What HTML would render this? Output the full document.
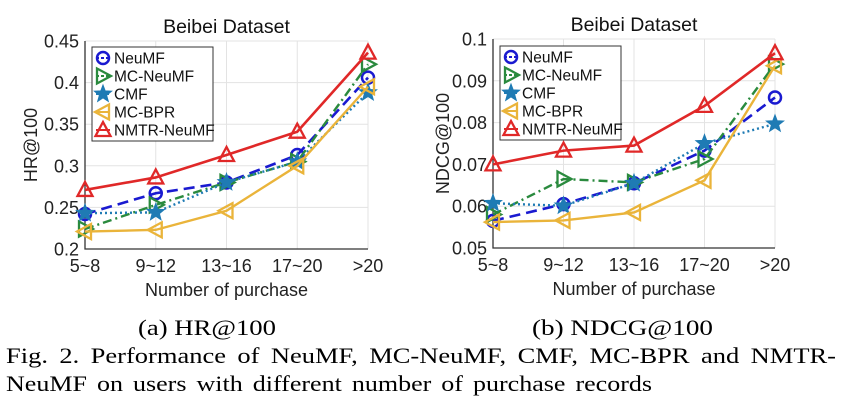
<!DOCTYPE html>
<html><head><meta charset="utf-8"><style>
html,body{margin:0;padding:0;background:#fff;}
svg{display:block;}
</style></head><body>
<svg id="fig" width="847" height="403" viewBox="0 0 847 403" xmlns="http://www.w3.org/2000/svg">
<g id="c1"></g>
<g id="c2"></g>
<text x="138" y="335" font-family="Liberation Serif, serif" font-size="22" textLength="138" lengthAdjust="spacingAndGlyphs">(a) HR@100</text>
<text x="532" y="335" font-family="Liberation Serif, serif" font-size="22" textLength="181" lengthAdjust="spacingAndGlyphs">(b) NDCG@100</text>
<text x="6" y="363" font-family="Liberation Serif, serif" font-size="22" word-spacing="4" textLength="830" lengthAdjust="spacingAndGlyphs">Fig. 2.  Performance of NeuMF, MC-NeuMF, CMF, MC-BPR and NMTR-</text>
<text x="6" y="391" font-family="Liberation Serif, serif" font-size="22" word-spacing="3" textLength="646" lengthAdjust="spacingAndGlyphs">NeuMF on users with different number of purchase records</text>
</svg>
<script>
const categories = ["5~8","9~12","13~16","17~20",">20"];
const seriesNames = ["NeuMF","MC-NeuMF","CMF","MC-BPR","NMTR-NeuMF"];
const hrNeuMF = [0.242,0.267,0.280,0.313,0.406];
const hrMCNeuMF = [0.224,0.253,0.280,0.305,0.422];
const hrCMF = [0.243,0.244,0.280,0.305,0.388];
const hrMCBPR = [0.221,0.223,0.246,0.300,0.395];
const hrNMTR = [0.271,0.286,0.313,0.341,0.436];
const hrTicks = ["0.2","0.25","0.3","0.35","0.4","0.45"];
const ndNeuMF = [0.0565,0.0605,0.0655,0.0733,0.0860];
const ndMCNeuMF = [0.0580,0.0665,0.0657,0.0713,0.0940];
const ndCMF = [0.0607,0.0601,0.0655,0.0750,0.0797];
const ndMCBPR = [0.0562,0.0566,0.0585,0.0662,0.0936];
const ndNMTR = [0.0700,0.0733,0.0745,0.0840,0.0966];
const ndTicks = ["0.05","0.06","0.07","0.08","0.09","0.1"];

const NS="http://www.w3.org/2000/svg";
const styles=[
 {c:"#1a1ad0",d:"11,6",m:"circle",w:2.6},
 {c:"#2a8a3e",d:"9,4,2,4",m:"tri-right",w:2.4},
 {c:"#1f7bb4",d:"2,3",m:"star",w:2.4},
 {c:"#eab43a",d:"",m:"tri-left",w:2.4},
 {c:"#e02828",d:"",m:"tri-up",w:2.6}
];
function el(tag,attrs,parent){const e=document.createElementNS(NS,tag);for(const k in attrs)e.setAttribute(k,attrs[k]);parent.appendChild(e);return e;}
function marker(g,type,x,y,c){
 let e;
 if(type==="circle"){e=el("circle",{cx:x,cy:y,r:6,fill:"none",stroke:c,"stroke-width":2.5},g);}
 else if(type==="star"){let p=[];for(let i=0;i<10;i++){const r=i%2?3.8:9,a=-Math.PI/2+i*Math.PI/5;p.push((x+r*Math.cos(a)).toFixed(1)+","+(y+r*Math.sin(a)).toFixed(1));}e=el("polygon",{points:p.join(" "),fill:c,stroke:c,"stroke-width":1},g);}
 else{let pts;if(type==="tri-up")pts=[[x,y-8],[x-7.5,y+6],[x+7.5,y+6]];else if(type==="tri-right")pts=[[x+8,y],[x-6,y-7.5],[x-6,y+7.5]];else pts=[[x-8,y],[x+6,y-7.5],[x+6,y+7.5]];
  e=el("polygon",{points:pts.map(p=>p.join(",")).join(" "),fill:"none",stroke:c,"stroke-width":2.3},g);}
 return e;
}
function chart(gid,L,R,T,B,ymin,ymax,ticks,data,ylabel,legX,legY,ylx){
 const g=document.getElementById(gid);
 const xs=i=>L+(R-L)*i/(categories.length-1);
 const ys=v=>B-(B-T)*(v-ymin)/(ymax-ymin);
 const F="Liberation Sans, sans-serif";
 el("rect",{x:L,y:T,width:R-L,height:B-T,fill:"#fff"},g);
 ticks.forEach((t,i)=>{const v=ymin+(ymax-ymin)*i/(ticks.length-1);const y=ys(v);
  const gl=el("line",{x1:L,x2:R,y1:y,y2:y,stroke:"#e3e3e3","stroke-width":1},g);
  const tx=el("text",{x:L-6,y:y+6.5,"text-anchor":"end","font-family":F,"font-size":18,fill:"#222"},g);tx.textContent=t;
  });
 categories.forEach((c,i)=>{const x=xs(i);
  const gl=el("line",{x1:x,x2:x,y1:T,y2:B,stroke:"#e3e3e3","stroke-width":1},g);
  const tx=el("text",{x:x,y:B+23,"text-anchor":"middle","font-family":F,"font-size":18,fill:"#222"},g);tx.textContent=c;
  });
 const ax=el("path",{d:`M${L},${T}V${B}H${R}`,fill:"none",stroke:"#333","stroke-width":1.3},g);
 
 const tt=el("text",{x:(L+R)/2,y:T-8,"text-anchor":"middle","font-family":F,"font-size":19.5,fill:"#111"},g);tt.textContent="Beibei Dataset";
 
 const xl=el("text",{x:(L+R)/2,y:B+47,"text-anchor":"middle","font-family":F,"font-size":18,fill:"#222"},g);xl.textContent="Number of purchase";
 
 const yy=(T+B)/2;
 const yl=el("text",{x:ylx,y:yy,"text-anchor":"middle","font-family":F,"font-size":18,fill:"#222",transform:`rotate(-90 ${ylx} ${yy})`},g);yl.textContent=ylabel;
 
 data.forEach((arr,s)=>{const st=styles[s];
  const sg=el("g",{},g);
  const pl=el("polyline",{points:arr.map((v,i)=>xs(i)+","+ys(v)).join(" "),fill:"none",stroke:st.c,"stroke-width":st.w,"stroke-dasharray":st.d},sg);
  
  arr.forEach((v,i)=>{const m=marker(sg,st.m,xs(i),ys(v),st.c);});
 });
 const lg=el("g",{},g);
 el("rect",{x:legX,y:legY,width:121,height:94,fill:"#fff",stroke:"#333","stroke-width":1},lg);
 seriesNames.forEach((n,s)=>{const y=legY+11+s*18;const st=styles[s];
  const en=el("g",{},lg);
  el("line",{x1:legX+4,x2:legX+18,y1:y,y2:y,stroke:st.c,"stroke-width":2,"stroke-dasharray":st.d?"3,2":""},en);
  marker(en,st.m,legX+11,y,st.c);
  const tx=el("text",{x:legX+22,y:y+5.5,"font-family":F,"font-size":15.5,fill:"#111"},en);tx.textContent=n;
 });
}
chart("c1",85,368,41,249,0.2,0.45,hrTicks,[hrNeuMF,hrMCNeuMF,hrCMF,hrMCBPR,hrNMTR],"HR@100",92,47,37);
chart("c2",493,775,39,248,0.05,0.1,ndTicks,[ndNeuMF,ndMCNeuMF,ndCMF,ndMCBPR,ndNMTR],"NDCG@100",500,46,449);
</script>
</body></html>
